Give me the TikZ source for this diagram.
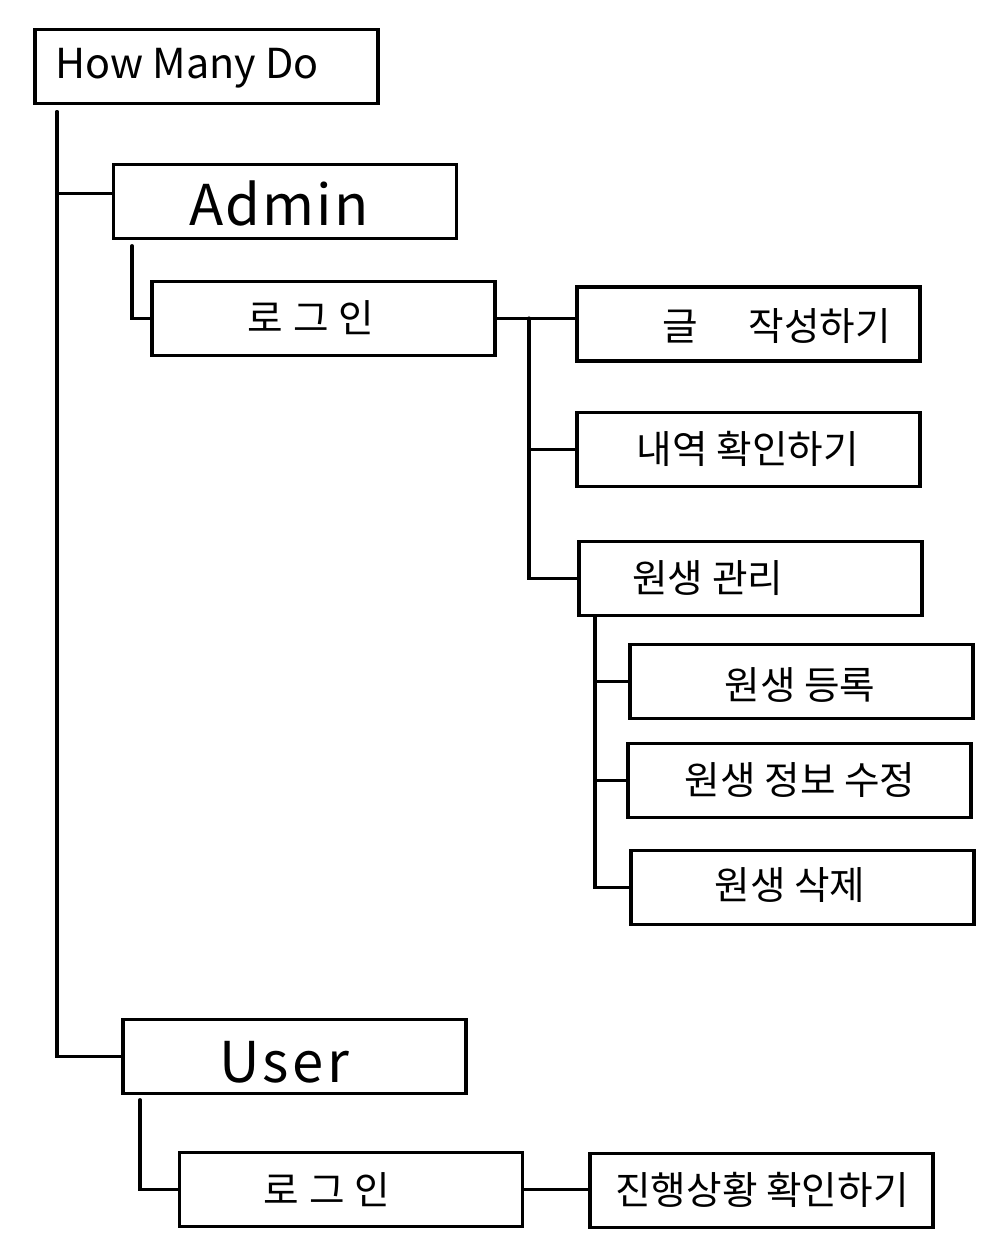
\documentclass[tikz,border=0pt]{standalone}
\usepackage{fontspec}
\setmainfont{Noto Sans CJK KR}
\begin{document}
\begin{tikzpicture}[x=0.02cm,y=-0.02cm,
  box/.style={draw=black,line width=2.2pt,minimum width=6.86cm,minimum height=1.48cm,inner sep=0pt,fill=white},
  lbl/.style={inner sep=0pt,font=\fontsize{22}{26}\selectfont},
  big/.style={inner sep=0pt,font=\fontsize{32}{36}\selectfont},
  link/.style={draw=black,line width=2.2pt,line cap=round}]
\useasboundingbox[fill=white] (0,0) rectangle (1000,1244);
% boxes
\node[box] (root) at (206.5,66.5) {};
\node[box] (admin) at (285,201.5) {};
\node[box] (login1) at (323.5,318.5) {};
\node[box] (write) at (748.5,324) {};
\node[box] (history) at (748.5,449.5) {};
\node[box] (manage) at (750.5,578.5) {};
\node[box] (reg) at (801.5,681.5) {};
\node[box] (edit) at (799.5,780.5) {};
\node[box] (del) at (802.5,887.5) {};
\node[box] (user) at (294.5,1056.5) {};
\node[box] (login2) at (351,1189.5) {};
\node[box] (progress) at (761.5,1190.5) {};
% texts
\node[lbl,anchor=west,font=\fontsize{23.5}{28}\selectfont] (root-t) at (55,68) {How Many Do};
\node[big] (admin-t) at (279,203) {\addfontfeature{LetterSpace=4}Admin};
\node[lbl] (login1-t) at (311,318) {\addfontfeature{LetterSpace=25}로그인};
\node[lbl] (write-t) at (777,326) {글\hspace{1.3em}작성하기};
\node[lbl] (history-t) at (748,449) {내역 확인하기};
\node[lbl,anchor=west] (manage-t) at (632,578) {원생 관리};
\node[lbl] (reg-t) at (800,685) {원생 등록};
\node[lbl] (edit-t) at (800,780) {원생 정보 수정};
\node[lbl] (del-t) at (790,885) {원생 삭제};
\node[big] (user-t) at (284,1062) {\addfontfeature{LetterSpace=6}User};
\node[lbl] (login2-t) at (327,1190) {\addfontfeature{LetterSpace=25}로그인};
\node[lbl] (progress-t) at (762,1190) {진행상황 확인하기};
% connectors
\coordinate (t0) at (57,112);
\coordinate (t1) at (132,246);
\coordinate (b1) at (529,320);
\coordinate (b2) at (595,616);
\coordinate (t2) at (140,1100);
\draw[link] (t0) |- ([yshift=0.16cm]admin.west);
\draw[link] (t0) |- (user.west);
\draw[link] (t1) |- (login1.west);
\draw[link] (login1.east) -- (login1.east -| write.west);
\draw[link] (login1.east -| b1) |- (history.west);
\draw[link] (login1.east -| b1) |- (manage.west);
\draw[link] (b2) |- (reg.west);
\draw[link] (b2) |- (edit.west);
\draw[link] (b2) |- (del.west);
\draw[link] (t2) |- (login2.west);
\draw[link] (login2.east) -- (login2.east -| progress.west);
\end{tikzpicture}
\end{document}
